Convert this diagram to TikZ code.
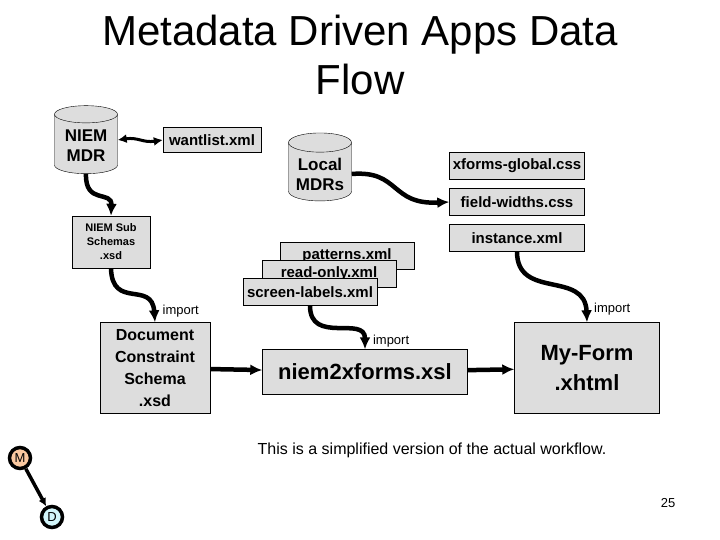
\documentclass[tikz,border=0pt]{standalone}
\usepackage{fontspec}
\setmainfont{Liberation Sans}
\usetikzlibrary{shapes.geometric,arrows.meta,positioning}
\definecolor{boxgray}{RGB}{221,221,221}
\tikzset{
  file/.style={draw, fill=boxgray, inner sep=1pt, align=center, font=\bfseries\fontsize{15}{17}\selectfont},
  repo/.style={draw, cylinder, shape border rotate=90, aspect=0.35, fill=boxgray, align=center,
    minimum width=63pt, minimum height=68pt, font=\bfseries\fontsize{17}{20}\selectfont},
  flow/.style={draw=black, line width=4.5pt, -{Latex[length=12pt,width=11pt]}},
  lbl/.style={font=\fontsize{13}{15}\selectfont}
}
\begin{document}
\begin{tikzpicture}[x=1pt,y=-1pt]
    \useasboundingbox (0,0) rectangle (720,540);
    % Title
    \node[align=center, font=\fontsize{42}{49}\selectfont] (title) at (360,55) {Metadata Driven Apps Data\\Flow};

    % Repositories
    \node[repo] (niemmdr) at (86,146) {NIEM\\MDR};
    \node[repo] (localmdr) at (320,174) {Local\\MDRs};

    % Files
    \node[file, minimum width=98pt, minimum height=25pt] (wantlist) at (212,140) {wantlist.xml};
    \node[file, minimum width=135pt, minimum height=27pt] (xglobal) at (517,166) {xforms-global.css};
    \node[file, minimum width=135pt, minimum height=27pt] (fwidths) at (517,202) {field-widths.css};
    \node[file, minimum width=135pt, minimum height=27pt] (instance) at (517,238) {instance.xml};
    \node[file, minimum width=78pt, minimum height=52pt, font=\bfseries\fontsize{11}{14}\selectfont] (subschemas) at (111,242) {NIEM Sub\\Schemas\\.xsd};

    % Stacked configuration files
    \node[file, minimum width=134pt, minimum height=27pt] (patterns) at (347,256) {patterns.xml};
    \node[file, minimum width=134pt, minimum height=27pt] (readonly) at (329,274) {read-only.xml};
    \node[file, minimum width=134pt, minimum height=27pt] (screenlabels) at (310,292) {screen-labels.xml};

    % Main pipeline
    \node[file, minimum width=110pt, minimum height=91pt, font=\bfseries\fontsize{16}{22}\selectfont] (dcs) at (155,368) {Document\\Constraint\\Schema\\.xsd};
    \node[file, minimum width=205pt, minimum height=45pt, font=\bfseries\fontsize{22}{26}\selectfont] (n2x) at (365,372) {niem2xforms.xsl};
    \node[file, minimum width=145pt, minimum height=91pt, font=\bfseries\fontsize{22}{30}\selectfont] (myform) at (587,368) {My-Form\\.xhtml};

    % Connections
    \draw[flow, line width=3pt, {Latex[length=9pt,width=9pt]}-{Latex[length=9pt,width=9pt]}] (niemmdr.east |- wantlist) .. controls (138,137) and (143,143) .. (wantlist.west);
    \draw[flow] (localmdr.east) .. controls (400,170) and (390,205) .. (fwidths.west);
    \draw[flow] (niemmdr.south) .. controls (85,205) and (112,190) .. (subschemas.north);
    \draw[flow] (subschemas.south) .. controls (112,310) and (152,280) .. (dcs.north) node[lbl, pos=0.9, right=4pt] {import};
    \draw[flow] (screenlabels.south) .. controls (310,345) and (365,315) .. (n2x.north) node[lbl, pos=0.9, right=4pt] {import};
    \draw[flow] (instance.south) .. controls (517,300) and (585,270) .. (myform.north) node[lbl, pos=0.9, right=4pt] {import};
    \draw[flow] (dcs) -- (n2x);
    \draw[flow] (n2x) -- (myform);

    % Note and page number
    \node[font=\fontsize{16}{19}\selectfont] (note) at (432,450) {This is a simplified version of the actual workflow.};
    \node[font=\fontsize{13}{15}\selectfont] (pagenum) at (668,503) {25};

    % Logo
    \node[circle, draw, line width=3.5pt, fill={rgb,255:red,250;green,200;blue,160}, inner sep=1.5pt, minimum size=21pt, font=\fontsize{13}{15}\selectfont] (logom) at (20,458) {M};
    \node[circle, draw, line width=3.5pt, fill={rgb,255:red,210;green,245;blue,250}, inner sep=1.5pt, minimum size=21pt, font=\fontsize{13}{15}\selectfont] (logod) at (52,517) {D};
    \draw[line width=3.5pt, -{Latex[length=8pt,width=8pt]}] (logom) -- (logod);
\end{tikzpicture}
\end{document}
